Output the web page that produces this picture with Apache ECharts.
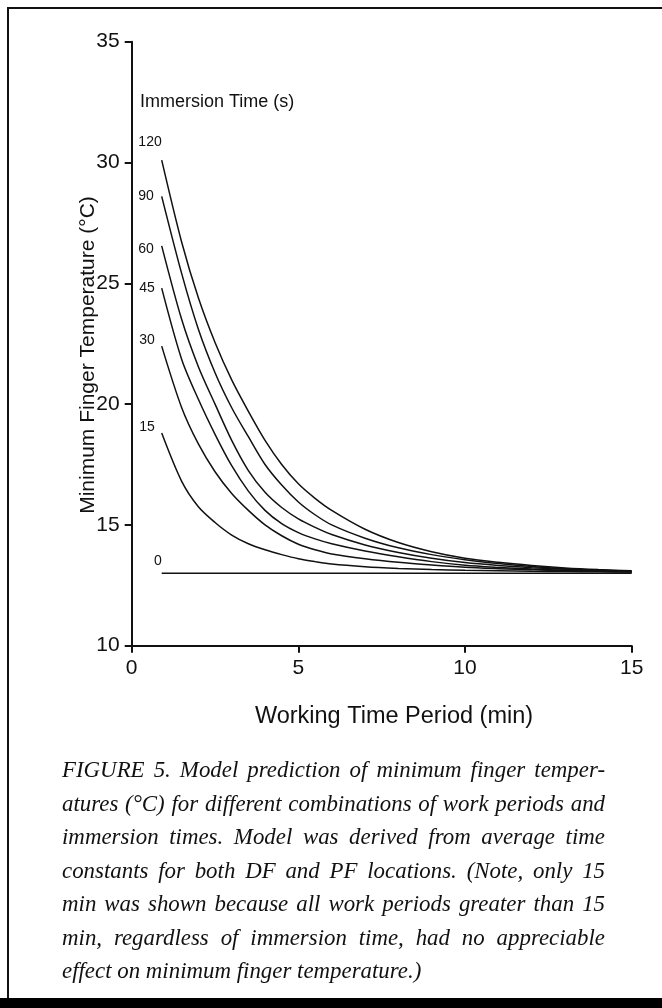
<!DOCTYPE html>
<html>
<head>
<meta charset="utf-8">
<script src="https://cdn.jsdelivr.net/npm/echarts@6/dist/echarts.min.js"></script>
<style>
html,body{margin:0;padding:0;background:#fff;}
#chart{width:662px;height:1008px;}
</style>
</head>
<body>
<div id="chart"></div>
<script>
// ---- data ----
const times = [0.9, 1.5, 2, 2.5, 3, 3.5, 4, 4.5, 5, 5.5, 6, 7, 8, 9, 10, 11, 12, 13, 14, 15];
const immersionLabels = ['120', '90', '60', '45', '30', '15', '0'];
const temp120 = [30.1, 26.7, 24.4, 22.55, 21.0, 19.7, 18.5, 17.5, 16.7, 16.1, 15.6, 14.82, 14.27, 13.89, 13.62, 13.45, 13.32, 13.22, 13.15, 13.1];
const temp90  = [28.6, 25.4, 23.1, 21.3, 19.85, 18.65, 17.5, 16.65, 15.95, 15.42, 15.0, 14.45, 14.05, 13.77, 13.56, 13.4, 13.28, 13.19, 13.13, 13.08];
const temp60  = [26.55, 23.5, 21.55, 20.0, 18.5, 17.25, 16.35, 15.72, 15.25, 14.9, 14.6, 14.17, 13.86, 13.62, 13.44, 13.32, 13.23, 13.16, 13.11, 13.07];
const temp45  = [24.8, 21.85, 20.2, 18.75, 17.45, 16.4, 15.6, 15.05, 14.68, 14.42, 14.22, 13.92, 13.68, 13.48, 13.33, 13.24, 13.17, 13.12, 13.09, 13.06];
const temp30  = [22.4, 19.85, 18.35, 17.2, 16.3, 15.6, 15.0, 14.55, 14.2, 13.97, 13.8, 13.6, 13.45, 13.34, 13.25, 13.19, 13.14, 13.1, 13.08, 13.06];
const temp15  = [18.8, 16.8, 15.75, 15.1, 14.58, 14.22, 13.97, 13.77, 13.6, 13.48, 13.38, 13.27, 13.2, 13.15, 13.12, 13.1, 13.08, 13.07, 13.06, 13.05];
const temp0   = [13.0, 13.0, 13.0, 13.0, 13.0, 13.0, 13.0, 13.0, 13.0, 13.0, 13.0, 13.0, 13.0, 13.0, 13.0, 13.0, 13.0, 13.0, 13.0, 13.0];
const xTicks = [0, 5, 10, 15];
const yTicks = [10, 15, 20, 25, 30, 35];
const yTitle = 'Minimum Finger Temperature (°C)';
const xTitle = 'Working Time Period (min)';
const legendTitle = 'Immersion Time (s)';
const captionLines = [
  'FIGURE 5. Model prediction of minimum finger temper-',
  'atures (°C) for different combinations of work periods and',
  'immersion times. Model was derived from average time',
  'constants for both DF and PF locations. (Note, only 15',
  'min was shown because all work periods greater than 15',
  'min, regardless of immersion time, had no appreciable',
  'effect on minimum finger temperature.)'
];

// ---- styles ----
const allTemps = [temp120, temp90, temp60, temp45, temp30, temp15, temp0];
const labelOffsets = [[0, -18], [-8, 0], [-8, 3], [-7, 0], [-7, -6], [-7, -6], [0, -12]];
const sansFont = '"Liberation Sans", Arial, Helvetica, sans-serif';
const serifFont = '"Liberation Serif", "Times New Roman", serif';

const chart = echarts.init(document.getElementById('chart'), null, {renderer: 'canvas'});

const series = allTemps.map((vals, si) => ({
  name: immersionLabels[si],
  type: 'line',
  smooth: 0.3,
  showSymbol: false,
  symbol: 'none',
  silent: true,
  lineStyle: {color: '#111', width: 1.5},
  data: times.map((t, i) => [t, vals[i]]),
  markPoint: {
    symbol: 'circle',
    symbolSize: 0,
    silent: true,
    animation: false,
    data: [{
      coord: [times[0], vals[0]],
      label: {
        show: true,
        position: 'left',
        distance: 0,
        offset: labelOffsets[si],
        formatter: immersionLabels[si],
        fontFamily: sansFont,
        fontSize: 14,
        color: '#111'
      }
    }]
  }
}));

// caption, justified word by word
const capLeft = 62, capRight = 605, capTop = 771, capStep = 33.5;
const measureCtx = document.createElement('canvas').getContext('2d');
measureCtx.font = 'italic 20px ' + serifFont;
const natural20 = measureCtx.measureText(captionLines[1]).width;
const capFontSize = Math.min(25, 20 * (capRight - capLeft) / natural20 * 0.985);
const capFont = 'italic ' + capFontSize.toFixed(2) + 'px ' + serifFont;
measureCtx.font = capFont;
const captionGraphics = [];
captionLines.forEach((line, li) => {
  const y = capTop + li * capStep;
  const words = line.split(' ');
  const widths = words.map(w => measureCtx.measureText(w).width);
  const total = widths.reduce((a, b) => a + b, 0);
  const justify = li < captionLines.length - 1;
  const gap = justify ? (capRight - capLeft - total) / (words.length - 1) : measureCtx.measureText(' ').width;
  let x = capLeft;
  words.forEach((w, wi) => {
    captionGraphics.push({
      type: 'text', x: x, y: y, silent: true,
      style: {text: w, font: capFont, fill: '#111', textAlign: 'left', textVerticalAlign: 'middle'}
    });
    x += widths[wi] + gap;
  });
});

const option = {
  animation: false,
  backgroundColor: '#fff',
  grid: {left: 131.7, right: 30.3, top: 41.7, bottom: 362.3, containLabel: false},
  xAxis: {
    type: 'value', min: xTicks[0], max: xTicks[xTicks.length - 1], interval: 5,
    axisLine: {show: true, onZero: false, lineStyle: {color: '#111', width: 2}},
    axisTick: {show: true, length: 7, lineStyle: {color: '#111', width: 2}},
    axisLabel: {fontFamily: sansFont, fontSize: 21, color: '#111', margin: 12},
    splitLine: {show: false}
  },
  yAxis: {
    type: 'value', min: yTicks[0], max: yTicks[yTicks.length - 1], interval: 5,
    axisLine: {show: true, lineStyle: {color: '#111', width: 2}},
    axisTick: {show: true, length: 7, lineStyle: {color: '#111', width: 2}},
    axisLabel: {fontFamily: sansFont, fontSize: 21, color: '#111', margin: 12},
    splitLine: {show: false}
  },
  series: series,
  graphic: [
    // frame
    {type: 'line', shape: {x1: 8, y1: 8, x2: 8, y2: 1000}, style: {stroke: '#111', lineWidth: 2}, silent: true},
    {type: 'line', shape: {x1: 7, y1: 8, x2: 662, y2: 8}, style: {stroke: '#111', lineWidth: 2}, silent: true},
    {type: 'rect', shape: {x: 0, y: 998, width: 662, height: 10}, style: {fill: '#000'}, silent: true},
    // titles
    {type: 'text', x: 140, y: 102, silent: true,
     style: {text: legendTitle, font: '18px ' + sansFont, fill: '#111', textAlign: 'left', textVerticalAlign: 'middle'}},
    {type: 'text', x: 88, y: 355, rotation: Math.PI / 2, silent: true,
     style: {text: yTitle, font: '21px ' + sansFont, fill: '#111', textAlign: 'center', textVerticalAlign: 'middle'}},
    {type: 'text', x: 394, y: 717, silent: true,
     style: {text: xTitle, font: '23.5px ' + sansFont, fill: '#111', textAlign: 'center', textVerticalAlign: 'middle'}}
  ].concat(captionGraphics)
};
chart.setOption(option);
</script>
</body>
</html>
